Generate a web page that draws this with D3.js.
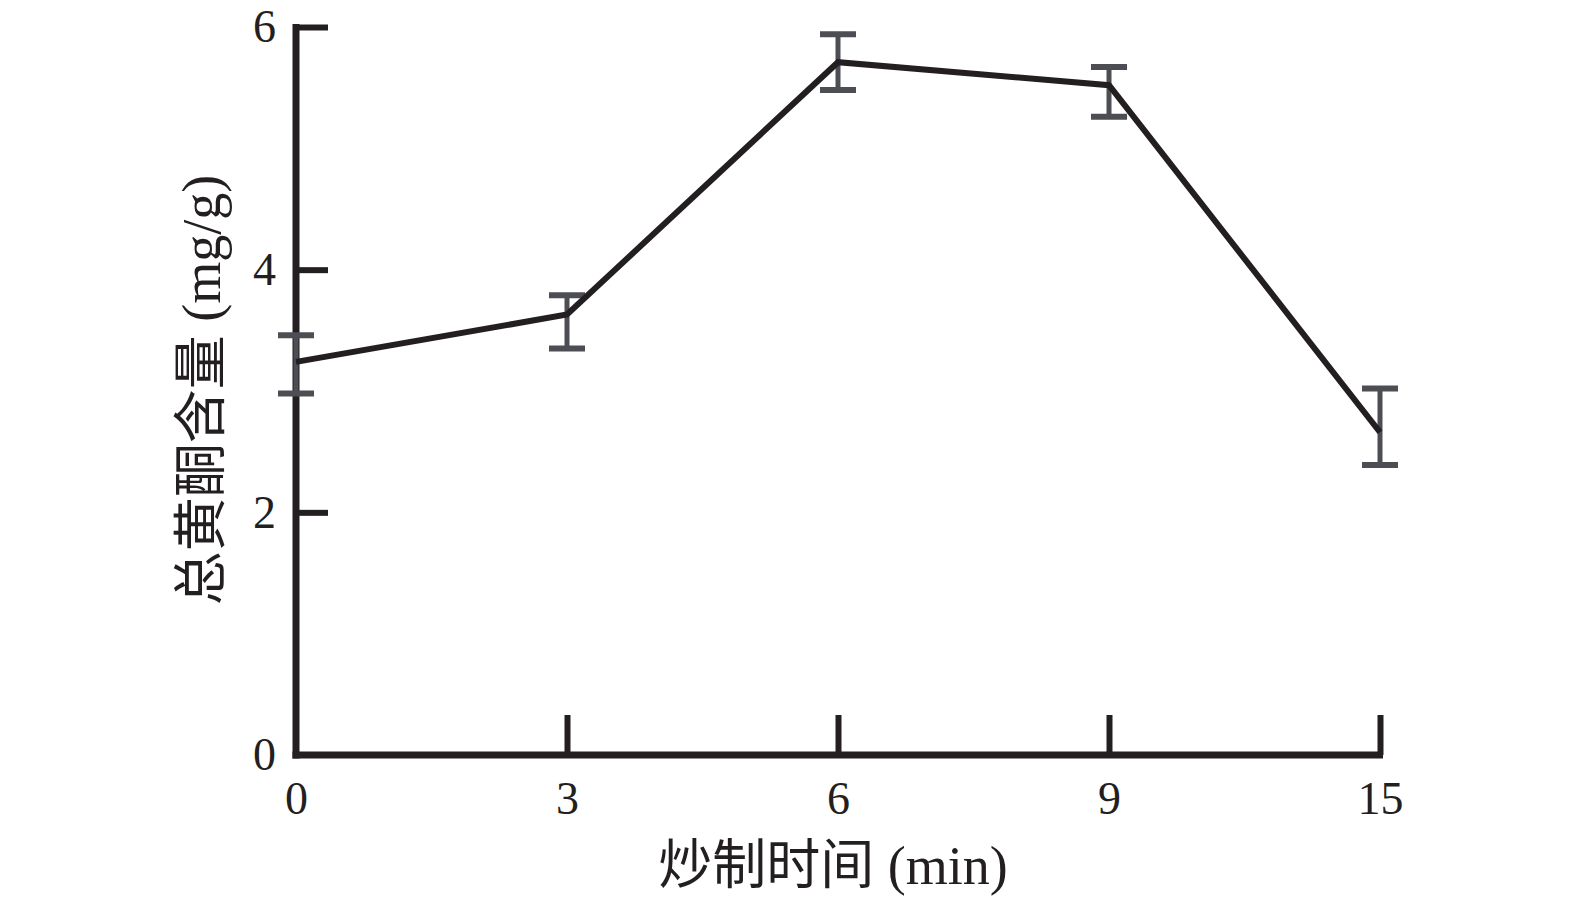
<!DOCTYPE html>
<html>
<head>
<meta charset="utf-8">
<script src="https://cdn.jsdelivr.net/npm/d3@7"></script>
<style>
  body { margin: 0; background: #fff; }
  svg { display: block; }
  .axis text { font-family: "Liberation Serif", "Times New Roman", serif; font-size: 46px; fill: #231f20; }
  .label { font-family: "Liberation Serif", "Noto Sans CJK SC", serif; font-size: 54px; fill: #231f20; }
</style>
</head>
<body>
<svg width="1575" height="904"></svg>
<script>
// roasting time (min) and total flavonoid content (mg/g)
var times = ["0", "3", "6", "9", "15"];
var means = [3.24, 3.63, 5.71, 5.52, 2.66];
var upper = [3.46, 3.79, 5.94, 5.67, 3.02];
var lower = [2.98, 3.35, 5.48, 5.26, 2.39];
var yTicks = [0, 2, 4, 6];

var ink = "#231f20";
var barColor = "#4d4e53";

var svg = d3.select("svg");
var rows = times.map(function(t, i) {
  return { t: t, v: means[i], hi: upper[i], lo: lower[i] };
});

var x = d3.scalePoint().domain(times).range([296, 1380]);
var y = d3.scaleLinear().domain([0, 6]).range([755, 27]);

// axes, ticks pointing inward
var yAxis = svg.append("g")
  .attr("class", "axis")
  .attr("transform", "translate(296,0)")
  .call(d3.axisLeft(y).tickValues(yTicks).tickFormat(d3.format("d"))
    .tickSizeInner(-32).tickSizeOuter(0).tickPadding(20));

var xAxis = svg.append("g")
  .attr("class", "axis")
  .attr("transform", "translate(0,755)")
  .call(d3.axisBottom(x).tickSizeInner(-40).tickSizeOuter(0).tickPadding(26));

svg.selectAll(".axis .domain").attr("stroke", ink).attr("stroke-width", 7);
svg.selectAll(".axis .tick line").attr("stroke", ink).attr("stroke-width", 6);
// hide y tick at 0 (sits on x axis)
yAxis.selectAll(".tick").filter(function(d) { return d === 0; }).select("line").remove();
// x tick at the first point sits on y axis
xAxis.selectAll(".tick").filter(function(d) { return d === "0"; }).select("line").remove();

// extend domains so the corner closes
xAxis.select(".domain").attr("d", "M" + (296 - 3.5) + ",0H" + (x("15") + 3));
yAxis.select(".domain").attr("d", "M0," + (y(6) - 3) + "V" + (y(0) + 3.5));

// error bars
var eb = svg.append("g").attr("class", "errbars");
eb.selectAll("line.v")
  .data(rows).enter().append("line")
  .attr("class", "v")
  .attr("x1", function(d) { return x(d.t); })
  .attr("x2", function(d) { return x(d.t); })
  .attr("y1", function(d) { return y(d.hi); })
  .attr("y2", function(d) { return y(d.lo); })
  .attr("stroke", barColor).attr("stroke-width", 5);
eb.selectAll("line.top")
  .data(rows).enter().append("line")
  .attr("class", "top")
  .attr("x1", function(d) { return x(d.t) - 18; })
  .attr("x2", function(d) { return x(d.t) + 18; })
  .attr("y1", function(d) { return y(d.hi); })
  .attr("y2", function(d) { return y(d.hi); })
  .attr("stroke", barColor).attr("stroke-width", 6);
eb.selectAll("line.bot")
  .data(rows).enter().append("line")
  .attr("class", "bot")
  .attr("x1", function(d) { return x(d.t) - 18; })
  .attr("x2", function(d) { return x(d.t) + 18; })
  .attr("y1", function(d) { return y(d.lo); })
  .attr("y2", function(d) { return y(d.lo); })
  .attr("stroke", barColor).attr("stroke-width", 6);

// mean line
var line = d3.line()
  .x(function(d) { return x(d.t); })
  .y(function(d) { return y(d.v); });

svg.append("path")
  .datum(rows)
  .attr("d", line)
  .attr("fill", "none")
  .attr("stroke", ink)
  .attr("stroke-width", 6)
  .attr("stroke-linejoin", "miter");

// axis titles
svg.append("text")
  .attr("class", "label")
  .attr("x", 833)
  .attr("y", 884)
  .attr("text-anchor", "middle")
  .text("炒制时间 (min)");

svg.append("text")
  .attr("class", "label")
  .attr("transform", "translate(220,390) rotate(-90)")
  .attr("text-anchor", "middle")
  .text("总黄酮含量 (mg/g)");
</script>
</body>
</html>
